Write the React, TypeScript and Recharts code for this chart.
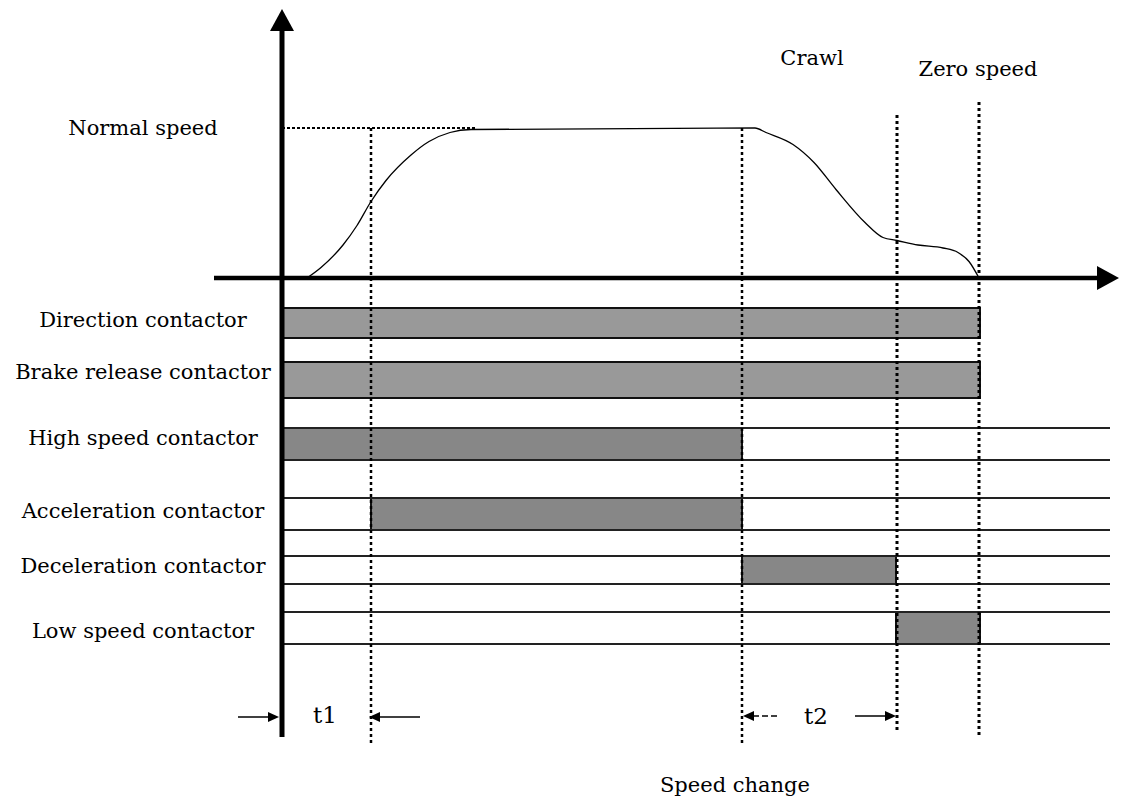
import {
  ComposedChart,
  Line,
  ReferenceArea,
  ReferenceDot,
  ReferenceLine,
  XAxis,
  YAxis,
} from "recharts";

// contactors, top to bottom
const CONTACTORS = [
  "Direction contactor",
  "Brake release contactor",
  "High speed contactor",
  "Acceleration contactor",
  "Deceleration contactor",
  "Low speed contactor",
];
// switch-on / switch-off instant of each contactor (time from the start command)
const ON_TIME = [0, 0, 0, 89, 460, 614];
const OFF_TIME = [698, 698, 460, 460, 614, 698];

// instants marked by the dotted verticals: end of t1, speed change, crawl, zero speed
const MARK_TIME = [89, 460, 615, 697];

// speed profile, % of normal speed
const SPEED_TIME = [25, 39, 61, 75, 89, 104, 129, 147, 168, 189, 473, 484, 511, 532, 554, 583, 601, 615, 636, 661, 676, 687, 697];
const SPEED_PCT = [0, 7, 22, 35, 51, 65, 82, 91, 97, 99, 100, 97, 89, 77, 59, 37, 27, 25, 22, 20, 17, 11, 0];

const SPEED_LABELS = ["Normal speed", "Crawl", "Zero speed", "Speed change"];
const TIME_LABELS = ["t1", "t2"];

// layout (diagram units: 1 unit = 1px)
const W = 1122;
const H = 800;
const NORMAL_LEVEL = 150;
const LANES: [number, number][] = [
  [-30, -60],
  [-84, -120],
  [-150, -182],
  [-220, -252],
  [-278, -306],
  [-334, -366],
];
const LANE_RULED = [false, false, true, true, true, true];
const LANE_FILL = ["#999999", "#999999", "#878787", "#878787", "#878787", "#878787"];
const LANE_BASELINE = [-49, -101, -167, -240, -295, -360];
const RULE_END = 828;
const MARK_SPAN: [number, number][] = [
  [150, -465],
  [150, -467],
  [163, -453],
  [176, -457],
];
const LABEL_X = -139;
const FONT = "'DejaVu Serif', serif";

const curve = SPEED_TIME.map((t, i) => ({ t, level: (SPEED_PCT[i] * NORMAL_LEVEL) / 100 }));

function textAt(key: string, x: number, y: number, text: string, size = 21) {
  return (
    <ReferenceDot
      key={key}
      x={x}
      y={y}
      r={0}
      ifOverflow="visible"
      shape={(p: any) => (
        <text x={p.cx} y={p.cy} textAnchor="middle" fontFamily={FONT} fontSize={size} fill="#000">
          {text}
        </text>
      )}
    />
  );
}

function arrowAt(key: string, x: number, y: number, dir: "up" | "left" | "right", len: number, half: number) {
  return (
    <ReferenceDot
      key={key}
      x={x}
      y={y}
      r={0}
      ifOverflow="visible"
      shape={(p: any) => {
        const { cx, cy } = p;
        let pts = "";
        if (dir === "up") pts = `${cx},${cy} ${cx - half},${cy + len} ${cx + half},${cy + len}`;
        if (dir === "right") pts = `${cx},${cy} ${cx - len},${cy - half} ${cx - len},${cy + half}`;
        if (dir === "left") pts = `${cx},${cy} ${cx + len},${cy - half} ${cx + len},${cy + half}`;
        return <polygon points={pts} fill="#000" />;
      }}
    />
  );
}

export default function App() {
  return (
    <div style={{ position: "absolute", left: 0, top: 0, background: "#fff" }}>
      <ComposedChart width={W} height={H} data={curve} margin={{ top: 0, right: 0, bottom: 0, left: 0 }}>
        <XAxis dataKey="t" type="number" domain={[-282, 840]} allowDataOverflow hide />
        <YAxis type="number" domain={[-522, 278]} allowDataOverflow hide />

        {CONTACTORS.map((name, i) => (
          <ReferenceArea
            key={`bar-${name}`}
            x1={ON_TIME[i]}
            x2={OFF_TIME[i]}
            y1={LANES[i][1]}
            y2={LANES[i][0]}
            fill={LANE_FILL[i]}
            fillOpacity={1}
            stroke="#111"
            strokeWidth={2}
            ifOverflow="visible"
          />
        ))}

        {CONTACTORS.flatMap((name, i) =>
          LANE_RULED[i]
            ? LANES[i].map((y, k) => (
                <ReferenceLine
                  key={`rule-${name}-${k}`}
                  segment={[
                    { x: 0, y },
                    { x: RULE_END, y },
                  ]}
                  stroke="#222"
                  strokeWidth={2}
                />
              ))
            : []
        )}

        <ReferenceLine
          segment={[
            { x: 0, y: NORMAL_LEVEL },
            { x: 193, y: NORMAL_LEVEL },
          ]}
          stroke="#000"
          strokeWidth={2}
          strokeDasharray="3 2"
        />

        {MARK_TIME.map((t, i) => (
          <ReferenceLine
            key={`mark-${t}`}
            segment={[
              { x: t, y: MARK_SPAN[i][0] },
              { x: t, y: MARK_SPAN[i][1] },
            ]}
            stroke="#000"
            strokeWidth={i < 2 ? 2.5 : 3}
            strokeDasharray="3 3"
          />
        ))}

        <Line
          dataKey="level"
          type="monotone"
          stroke="#000"
          strokeWidth={1.3}
          dot={false}
          activeDot={false}
          isAnimationActive={false}
        />

        {/* axes */}
        <ReferenceLine
          segment={[
            { x: 0, y: -459 },
            { x: 0, y: 250 },
          ]}
          stroke="#000"
          strokeWidth={5}
        />
        {arrowAt("ax-up", 0, 269, "up", 22, 12)}
        <ReferenceLine
          segment={[
            { x: -68, y: 0 },
            { x: 818, y: 0 },
          ]}
          stroke="#000"
          strokeWidth={4.5}
        />
        {arrowAt("ax-right", 837, 0, "right", 22, 12)}

        {/* interval arrows */}
        <ReferenceLine segment={[{ x: -44, y: -439 }, { x: -10, y: -439 }]} stroke="#000" strokeWidth={1.5} />
        {arrowAt("t1-a", -3, -439, "right", 11, 5)}
        <ReferenceLine segment={[{ x: 138, y: -439 }, { x: 94, y: -439 }]} stroke="#000" strokeWidth={1.5} />
        {arrowAt("t1-b", 87, -439, "left", 11, 5)}
        <ReferenceLine
          segment={[{ x: 495, y: -438 }, { x: 470, y: -438 }]}
          stroke="#000"
          strokeWidth={1.5}
          strokeDasharray="6 3"
        />
        {arrowAt("t2-a", 461, -438, "left", 11, 5)}
        <ReferenceLine segment={[{ x: 573, y: -438 }, { x: 606, y: -438 }]} stroke="#000" strokeWidth={1.5} />
        {arrowAt("t2-b", 614, -438, "right", 11, 5)}

        {/* texts */}
        {CONTACTORS.map((name, i) => textAt(`lbl-${name}`, LABEL_X, LANE_BASELINE[i], name))}
        {textAt("normal", LABEL_X, 143, SPEED_LABELS[0])}
        {textAt("crawl", 530, 213, SPEED_LABELS[1])}
        {textAt("zero", 696, 202, SPEED_LABELS[2])}
        {textAt("change", 453, -514, SPEED_LABELS[3])}
        {textAt("t1", 43, -445, TIME_LABELS[0], 23)}
        {textAt("t2", 534, -446, TIME_LABELS[1], 23)}
      </ComposedChart>
    </div>
  );
}
